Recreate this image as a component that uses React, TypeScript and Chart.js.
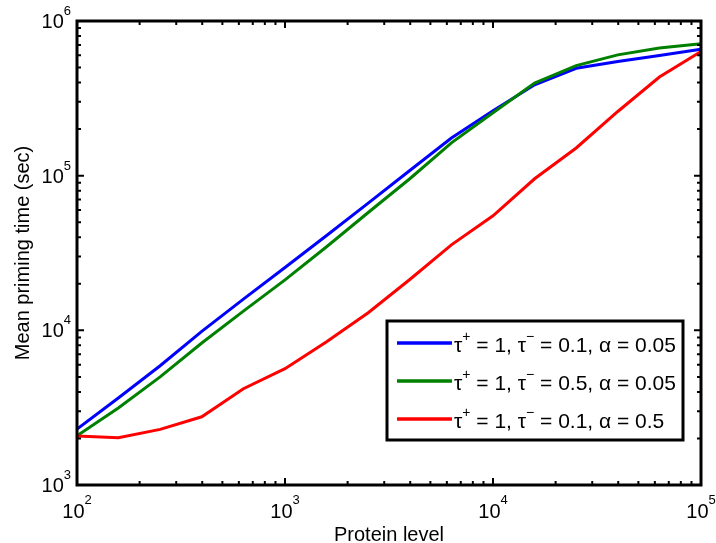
import React, { useEffect, useRef } from "react";
import { Chart, registerables } from "chart.js";

Chart.register(...registerables);

// ---- data ----
const proteinLevels = [100, 158, 251, 398, 631, 1000, 1585, 2512, 3981, 6310, 10000, 15849, 25119, 39811, 63096, 100000];
const seriesA = [2300, 3650, 5900, 9840, 15900, 25500, 41000, 66500, 108000, 175000, 263000, 387000, 495000, 547000, 598000, 658000];
const seriesB = [2080, 3150, 5000, 8280, 13300, 21200, 34700, 57800, 95500, 163000, 255000, 397000, 515000, 604000, 668000, 713000];
const seriesC = [2075, 2020, 2290, 2760, 4190, 5650, 8450, 13000, 21300, 35700, 55000, 95500, 151000, 260000, 434000, 635000];
const seriesLabels = [
  "τ^+ = 1, τ^− = 0.1, α = 0.05",
  "τ^+ = 1, τ^− = 0.5, α = 0.05",
  "τ^+ = 1, τ^− = 0.1, α = 0.5",
];
const seriesColors = ["#0000ff", "#008000", "#ff0000"];
const xTickExponents = [2, 3, 4, 5];
const yTickExponents = [3, 4, 5, 6];
const xTitle = "Protein level";
const yTitle = "Mean priming time (sec)";

const FONT = '"Liberation Sans", Arial, Helvetica, sans-serif';

function parseRich(str: string) {
  const parts: { t: string; s: boolean }[] = [];
  let buf = "";
  for (let i = 0; i < str.length; i++) {
    if (str[i] === "^") {
      if (buf) parts.push({ t: buf, s: false });
      buf = "";
      parts.push({ t: str[i + 1], s: true });
      i++;
    } else buf += str[i];
  }
  if (buf) parts.push({ t: buf, s: false });
  return parts;
}

function richWidth(ctx: CanvasRenderingContext2D, str: string, size: number, sup: number) {
  let w = 0;
  for (const p of parseRich(str)) {
    ctx.font = `${p.s ? sup : size}px ${FONT}`;
    w += ctx.measureText(p.t).width;
  }
  return w;
}

function drawRich(ctx: CanvasRenderingContext2D, str: string, x: number, y: number, size: number, sup: number, raise: number) {
  let cx = x;
  for (const p of parseRich(str)) {
    ctx.font = `${p.s ? sup : size}px ${FONT}`;
    ctx.fillText(p.t, cx, p.s ? y - raise : y);
    cx += ctx.measureText(p.t).width;
  }
}

const decorPlugin = {
  id: "decor",
  afterDatasetsDraw(chart: any) {
    const ctx: CanvasRenderingContext2D = chart.ctx;
    const xs = chart.scales.x;
    const ys = chart.scales.y;
    const { left, right, top, bottom } = chart.chartArea;
    ctx.save();
    ctx.fillStyle = "#000";
    ctx.strokeStyle = "#000";
    ctx.textAlign = "left";
    ctx.textBaseline = "alphabetic";

    // ticks (inside, all four sides)
    ctx.lineWidth = 2;
    const xMin = xTickExponents[0], xMax = xTickExponents[xTickExponents.length - 1];
    for (let d = xMin; d <= xMax; d++) {
      for (let j = 1; j <= 9; j++) {
        if (d === xMax && j > 1) break;
        const v = j * Math.pow(10, d);
        const px = xs.getPixelForValue(v);
        const len = j === 1 ? 7 : 4;
        ctx.beginPath();
        ctx.moveTo(px, bottom); ctx.lineTo(px, bottom - len);
        ctx.moveTo(px, top); ctx.lineTo(px, top + len);
        ctx.stroke();
      }
    }
    const yMin = yTickExponents[0], yMax = yTickExponents[yTickExponents.length - 1];
    for (let d = yMin; d <= yMax; d++) {
      for (let j = 1; j <= 9; j++) {
        if (d === yMax && j > 1) break;
        const v = j * Math.pow(10, d);
        const py = ys.getPixelForValue(v);
        const len = j === 1 ? 7 : 4;
        ctx.beginPath();
        ctx.moveTo(left, py); ctx.lineTo(left + len, py);
        ctx.moveTo(right, py); ctx.lineTo(right - len, py);
        ctx.stroke();
      }
    }

    // frame
    ctx.lineWidth = 3;
    ctx.strokeRect(left, top, right - left, bottom - top);

    // tick labels
    for (const e of xTickExponents) {
      const s = "10^" + e;
      const px = xs.getPixelForValue(Math.pow(10, e));
      const w = richWidth(ctx, s, 20, 13);
      drawRich(ctx, s, px - w / 2, 518, 20, 13, 14);
    }
    for (const e of yTickExponents) {
      const s = "10^" + e;
      const py = ys.getPixelForValue(Math.pow(10, e));
      const w = richWidth(ctx, s, 20, 13);
      drawRich(ctx, s, left - 6 - w, py + 7, 20, 13, 13);
    }

    // axis titles
    ctx.font = `20px ${FONT}`;
    ctx.textAlign = "center";
    ctx.fillText(xTitle, (left + right) / 2, 541);
    ctx.save();
    ctx.translate(29, (top + bottom) / 2);
    ctx.rotate(-Math.PI / 2);
    ctx.fillText(yTitle, 0, 0);
    ctx.restore();
    ctx.textAlign = "left";

    // legend
    const bx = 387, by = 321, bw = 296, bh = 119;
    ctx.fillStyle = "#fff";
    ctx.fillRect(bx, by, bw, bh);
    ctx.lineWidth = 3;
    ctx.strokeStyle = "#000";
    ctx.strokeRect(bx, by, bw, bh);
    const rowY = [343, 381, 419];
    seriesLabels.forEach((lab, i) => {
      ctx.strokeStyle = seriesColors[i];
      ctx.lineWidth = 3.5;
      ctx.beginPath();
      ctx.moveTo(397, rowY[i]);
      ctx.lineTo(452, rowY[i]);
      ctx.stroke();
      ctx.fillStyle = "#000";
      drawRich(ctx, lab, 454, rowY[i] + 8.5, 21, 14, 11);
    });
    ctx.restore();
  },
};

export default function App() {
  const ref = useRef<HTMLCanvasElement>(null);
  useEffect(() => {
    if (!ref.current) return;
    const mk = (data: number[], i: number, order: number) => ({
      label: seriesLabels[i],
      data: proteinLevels.map((x, k) => ({ x, y: data[k] })),
      borderColor: seriesColors[i],
      backgroundColor: seriesColors[i],
      borderWidth: 3,
      pointRadius: 0,
      tension: 0,
      fill: false,
      order,
    });
    const chart = new Chart(ref.current, {
      type: "line",
      data: {
        datasets: [mk(seriesA, 0, 2), mk(seriesB, 1, 1), mk(seriesC, 2, 0)],
      },
      options: {
        animation: false,
        responsive: false,
        devicePixelRatio: 1,
        layout: { padding: { left: 77, right: 15, top: 21, bottom: 58 } },
        plugins: { legend: { display: false }, tooltip: { enabled: false } },
        scales: {
          x: { type: "logarithmic", min: 100, max: 100000, display: false },
          y: { type: "logarithmic", min: 1000, max: 1000000, display: false },
        },
      },
      plugins: [decorPlugin],
    });
    return () => chart.destroy();
  }, []);
  return (
    <div style={{ position: "fixed", left: 0, top: 0, width: 716, height: 543, background: "#fff" }}>
      <canvas ref={ref} width={716} height={543} style={{ display: "block" }} />
    </div>
  );
}
